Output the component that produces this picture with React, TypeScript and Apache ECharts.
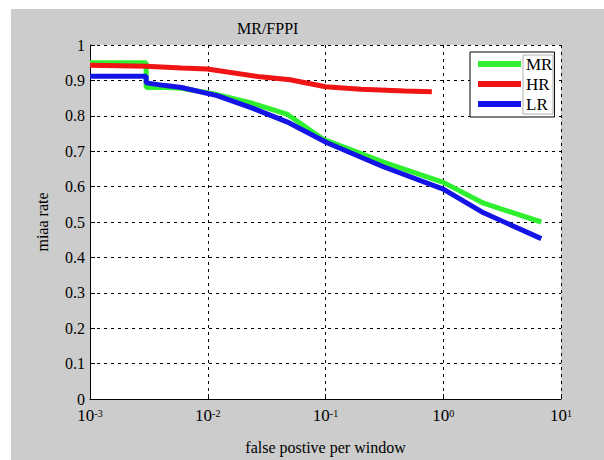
import React, { useEffect, useRef } from "react";
import * as echarts from "echarts";

const seriesNames = ["MR", "HR", "LR"];
const mrX = [0.001, 0.003, 0.003, 0.0045, 0.006, 0.012, 0.023, 0.047, 0.095, 0.31, 1, 2.2, 6.8];
const mrY = [0.95, 0.95, 0.88, 0.88, 0.878, 0.86, 0.837, 0.805, 0.734, 0.669, 0.612, 0.553, 0.5];
const hrX = [0.001, 0.003, 0.006, 0.0099, 0.028, 0.05, 0.1, 0.2, 0.47, 0.8];
const hrY = [0.943, 0.94, 0.935, 0.932, 0.91, 0.902, 0.882, 0.875, 0.87, 0.868];
const lrX = [0.001, 0.003, 0.003, 0.0042, 0.006, 0.012, 0.023, 0.047, 0.103, 0.31, 1, 2.2, 6.8];
const lrY = [0.912, 0.912, 0.893, 0.886, 0.88, 0.857, 0.824, 0.783, 0.724, 0.656, 0.593, 0.526, 0.453];
const colors = ["#2ef02e", "#f01414", "#1414e6"];

const FONT = "'Liberation Serif', 'Times New Roman', serif";

export default function App() {
  const ref = useRef<HTMLDivElement>(null);
  useEffect(() => {
    const chart = echarts.init(ref.current!, null, { renderer: "svg" });
    const xs = [mrX, hrX, lrX];
    const ys = [mrY, hrY, lrY];
    chart.setOption({
      animation: false,
      backgroundColor: "transparent",
      textStyle: { fontFamily: FONT },
      title: {
        text: "MR/FPPI",
        left: 232,
        top: 15,
        textStyle: { fontFamily: FONT, fontSize: 16, fontWeight: "normal", color: "#000" },
      },
      legend: {
        data: seriesNames.map((n, i) => ({ name: n, itemStyle: { color: colors[i] } })),
        orient: "vertical",
        left: 470,
        top: 52,
        padding: [2, 2, 3, 8],
        itemGap: 0,
        itemWidth: 43,
        itemHeight: 6,
        icon: "rect",
        backgroundColor: "#fff",
        borderColor: "#000",
        borderWidth: 1,
        textStyle: { fontFamily: FONT, fontSize: 17, color: "#000", lineHeight: 20, padding: [0, 0, 0, 0] },
      },
      graphic: [
        {
          type: "rect",
          shape: { x: 523, y: 55, width: 30, height: 59 },
          style: { fill: "none", stroke: "#b0b0b0", lineWidth: 1 },
          z: 100,
        },
      ],
      grid: {
        left: 90,
        right: 43,
        top: 45,
        bottom: 46,
        show: true,
        backgroundColor: "#fff",
        borderWidth: 0,
      },
      xAxis: {
        type: "log",
        logBase: 10,
        min: 0.001,
        max: 10,
        name: "false postive per window",
        nameLocation: "middle",
        nameGap: 40,
        nameTextStyle: { fontFamily: FONT, fontSize: 16, color: "#000" },
        axisLine: { show: true, lineStyle: { color: "#000", width: 1 } },
        axisTick: { show: true, inside: true, length: 5, lineStyle: { color: "#000" } },
        minorTick: { show: false },
        splitLine: { show: true, lineStyle: { color: "#000", type: [3, 4], width: 1 } },
        axisLabel: {
          margin: 9,
          color: "#000",
          fontFamily: FONT,
          formatter: (v: number) => `{b|10}{s|${Math.round(Math.log10(v))}}`,
          rich: {
            b: { fontFamily: FONT, fontSize: 17, color: "#000", lineHeight: 16, verticalAlign: "bottom" },
            s: { fontFamily: FONT, fontSize: 10, color: "#000", lineHeight: 16, verticalAlign: "top", padding: [0, 0, 6, 0] },
          },
        },
      },
      yAxis: {
        type: "value",
        min: 0,
        max: 1,
        interval: 0.1,
        name: "miaa rate",
        nameLocation: "middle",
        nameGap: 40,
        nameTextStyle: { fontFamily: FONT, fontSize: 16, color: "#000" },
        axisLine: { show: true, lineStyle: { color: "#000", width: 1 } },
        axisTick: { show: true, inside: true, length: 5, lineStyle: { color: "#000" } },
        splitLine: { show: true, lineStyle: { color: "#000", type: [3, 4], width: 1 } },
        axisLabel: {
          margin: 5,
          fontFamily: FONT,
          fontSize: 16,
          lineHeight: 16,
          color: "#000",
          formatter: (v: number) => (v === 0 ? "0" : v === 1 ? "1" : v.toFixed(1)),
        },
      },
      series: seriesNames.map((n, i) => ({
        name: n,
        type: "line",
        showSymbol: false,
        symbol: "none",
        data: xs[i].map((x, j) => [x, ys[i][j]]),
        lineStyle: { color: colors[i], width: 5 },
        itemStyle: { color: colors[i] },
        z: 2 + i,
      })),
    });
    return () => chart.dispose();
  }, []);
  return (
    <div style={{ position: "absolute", left: 0, top: 0, width: 604, height: 460, background: "#fff" }}>
      <div style={{ position: "absolute", left: 11, top: 9, right: 0, bottom: 0, background: "#cccccc" }} />
      <div ref={ref} style={{ position: "absolute", left: 0, top: 0, width: 604, height: 460 }} />
    </div>
  );
}
